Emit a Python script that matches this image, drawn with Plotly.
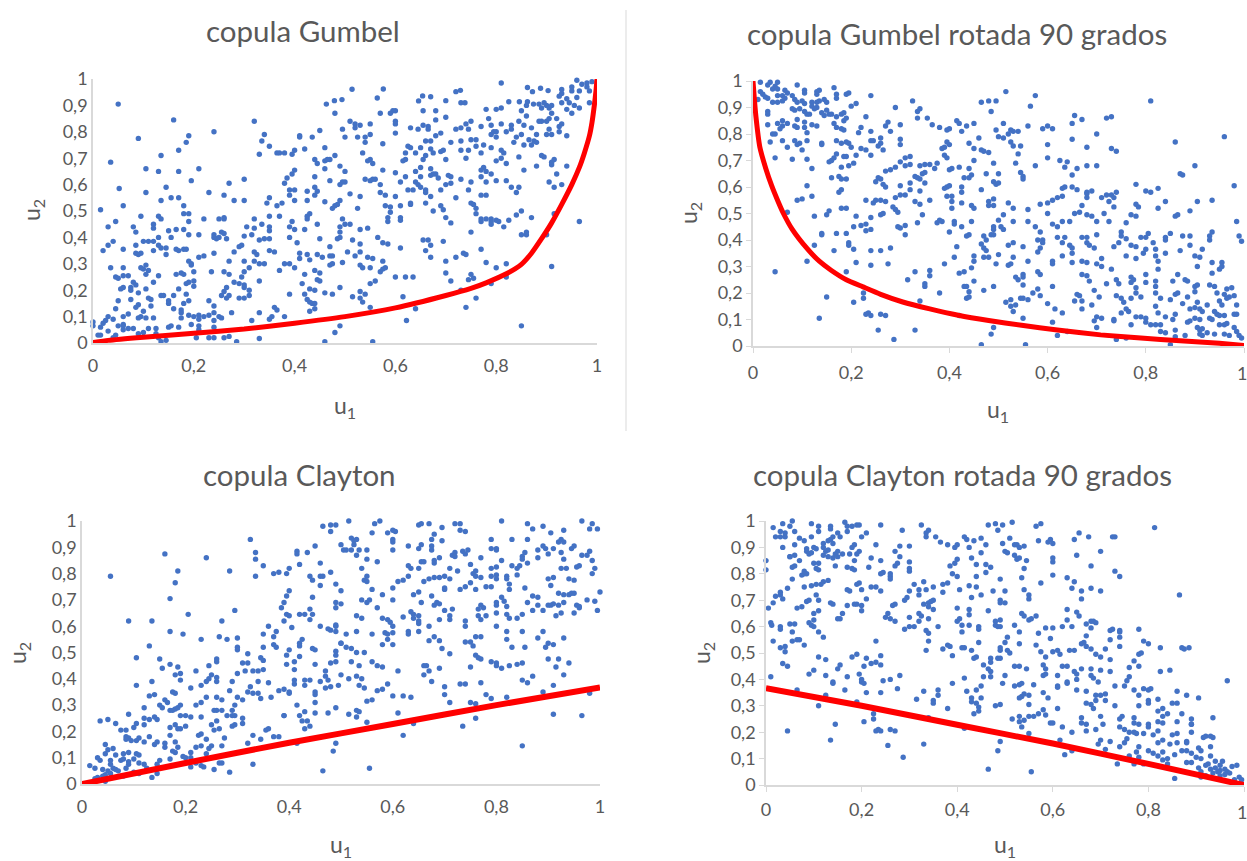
import plotly.graph_objects as go

W, H = 1247, 861
tick_vals_y = [0, 0.1, 0.2, 0.3, 0.4, 0.5, 0.6, 0.7, 0.8, 0.9, 1]
tick_text_y = ["0", "0,1", "0,2", "0,3", "0,4", "0,5", "0,6", "0,7", "0,8", "0,9", "1"]
tick_vals_x = [0, 0.2, 0.4, 0.6, 0.8, 1]
tick_text_x = ["0", "0,2", "0,4", "0,6", "0,8", "1"]

gumbel_pts = [(0.81,0.985),(0.96,0.995),(0.98,0.985),(0.99,0.99),(0.97,0.98),(0.98,0.97),(0.985,0.955),(0.965,0.955),(0.95,0.97),(0.95,0.955),(0.93,0.96),(0.93,0.945),(0.925,0.935),(0.96,0.93),(0.94,0.925),(0.945,0.91),(0.955,0.9),(0.93,0.91),(0.965,0.89),(0.94,0.885),(0.95,0.87),(0.985,0.91),
(0.514,0.961),(0.576,0.962),(0.72,0.952),(0.729,0.957),(0.862,0.968),(0.888,0.965),(0.903,0.956),(0.872,0.952),(0.654,0.936),(0.67,0.933),(0.564,0.928),(0.7,0.918),(0.646,0.917),(0.494,0.922),(0.479,0.918),(0.463,0.905),(0.73,0.91),(0.738,0.91),(0.825,0.914),(0.846,0.914),(0.862,0.914),(0.874,0.905),
(0.05,0.905),(0.16,0.845),(0.32,0.84),(0.24,0.80),(0.19,0.785),(0.09,0.775),(0.185,0.76),(0.34,0.79),(0.335,0.765),(0.35,0.745),(0.17,0.73),(0.135,0.71),(0.035,0.685),(0.33,0.715),(0.365,0.72),(0.37,0.72),(0.38,0.72),(0.395,0.715),(0.4,0.73),(0.42,0.735),(0.41,0.785),(0.41,0.78),(0.435,0.78),(0.45,0.805),(0.46,0.74),(0.48,0.71),(0.44,0.695),(0.445,0.68),(0.46,0.66),(0.46,0.69),(0.47,0.695),(0.465,0.695),(0.49,0.67),(0.5,0.65),(0.105,0.66),(0.13,0.65),(0.17,0.65),(0.21,0.66),(0.4,0.655),(0.395,0.64),(0.385,0.625),(0.38,0.605),(0.44,0.63),(0.47,0.615),(0.5,0.61),(0.49,0.6),(0.495,0.61),(0.3,0.62),(0.195,0.615),(0.27,0.605),(0.145,0.59),(0.052,0.585),(0.105,0.57),(0.23,0.57),(0.39,0.58),(0.4,0.58),(0.425,0.575),(0.445,0.575),(0.44,0.59),(0.44,0.56),(0.39,0.56),(0.26,0.56),(0.155,0.55),(0.17,0.55),(0.35,0.55),(0.28,0.54),(0.3,0.54),(0.135,0.54),(0.4,0.54),(0.425,0.54),(0.46,0.535),(0.375,0.53),(0.345,0.53),(0.365,0.52),(0.06,0.52),(0.18,0.52),(0.48,0.52),(0.485,0.525),(0.49,0.54),(0.475,0.51),(0.015,0.505),
(0.51,0.565),(0.53,0.555),(0.525,0.51),(0.54,0.62),(0.55,0.615),(0.555,0.62),(0.56,0.62),(0.57,0.6),(0.575,0.655),(0.6,0.645),(0.62,0.63),(0.64,0.61),(0.61,0.61),(0.58,0.56),(0.6,0.555),(0.57,0.57),(0.58,0.52),(0.59,0.515),(0.59,0.495),(0.585,0.475),(0.585,0.46),(0.61,0.52),(0.61,0.475),(0.61,0.465),(0.625,0.58),(0.635,0.58),(0.645,0.6),(0.66,0.58),(0.66,0.57),(0.65,0.59),(0.66,0.53),(0.67,0.555),(0.63,0.525),(0.63,0.53),(0.675,0.5),(0.69,0.52),(0.695,0.505),(0.7,0.475),(0.71,0.455),(0.69,0.58),(0.7,0.6),(0.71,0.605),(0.705,0.635),(0.685,0.625),(0.68,0.64),(0.675,0.64),(0.67,0.635),(0.67,0.66),(0.65,0.665),(0.64,0.65),(0.65,0.63),(0.62,0.695),(0.615,0.69),(0.62,0.72),(0.625,0.745),(0.63,0.74),(0.64,0.72),(0.65,0.74),(0.655,0.695),(0.66,0.71),(0.67,0.735),(0.675,0.72),(0.69,0.725),(0.7,0.695),(0.695,0.73),(0.71,0.76),(0.66,0.765),(0.67,0.765),(0.68,0.785),(0.69,0.795),(0.63,0.815),(0.645,0.81),(0.655,0.825),(0.665,0.82),(0.665,0.81),(0.68,0.845),(0.68,0.88),(0.655,0.88),(0.6,0.88),(0.595,0.88),(0.59,0.87),(0.6,0.84),(0.6,0.83),(0.6,0.795),(0.55,0.83),(0.53,0.825),(0.52,0.83),(0.52,0.815),(0.525,0.78),(0.54,0.78),(0.55,0.79),(0.5,0.78),(0.495,0.81),(0.51,0.84),(0.48,0.87),(0.57,0.87),(0.575,0.755),(0.54,0.76),(0.535,0.72),(0.55,0.695),(0.555,0.68),(0.545,0.69),
(0.7,0.855),(0.72,0.81),(0.73,0.815),(0.74,0.83),(0.75,0.84),(0.745,0.81),(0.77,0.82),(0.785,0.85),(0.79,0.825),(0.78,0.885),(0.8,0.885),(0.81,0.89),(0.81,0.83),(0.83,0.825),(0.83,0.81),(0.82,0.8),(0.84,0.78),(0.835,0.76),(0.8,0.8),(0.79,0.79),(0.795,0.8),(0.8,0.78),(0.79,0.74),(0.775,0.75),(0.76,0.77),(0.75,0.77),(0.73,0.765),(0.73,0.73),(0.745,0.73),(0.76,0.745),(0.74,0.7),(0.77,0.72),(0.81,0.73),(0.815,0.72),(0.81,0.7),(0.8,0.69),(0.82,0.68),(0.775,0.665),(0.77,0.655),(0.77,0.63),(0.78,0.65),(0.79,0.64),(0.78,0.61),(0.8,0.615),(0.82,0.615),(0.83,0.59),(0.84,0.57),(0.75,0.61),(0.73,0.62),(0.745,0.58),(0.71,0.63),(0.72,0.55),(0.75,0.53),(0.755,0.525),(0.76,0.51),(0.77,0.56),(0.78,0.56),(0.76,0.49),(0.77,0.47),(0.77,0.46),(0.78,0.47),(0.79,0.47),(0.8,0.465),(0.805,0.46),(0.815,0.44),(0.79,0.45),(0.79,0.46),(0.825,0.465),(0.84,0.485),(0.85,0.5),(0.87,0.475),(0.85,0.41),(0.86,0.41),(0.86,0.42),(0.9,0.41),(0.965,0.46),(0.915,0.49),(0.93,0.6),(0.94,0.67),(0.88,0.67),(0.91,0.675),(0.91,0.685),(0.895,0.705),(0.915,0.695),(0.92,0.64),(0.905,0.61),(0.915,0.59),(0.87,0.815),(0.855,0.825),
(0.86,0.86),(0.845,0.84),(0.85,0.88),(0.86,0.9),(0.875,0.765),(0.88,0.79),(0.89,0.84),(0.885,0.84),(0.9,0.84),(0.91,0.87),(0.905,0.85),(0.92,0.85),(0.93,0.83),(0.905,0.81),(0.91,0.79),(0.925,0.82),(0.94,0.785),(0.925,0.8),(0.9,0.79),(0.855,0.75),(0.85,0.79),(0.865,0.77),(0.87,0.75),(0.88,0.76),(0.845,0.705),(0.89,0.71),(0.855,0.655),(0.845,0.59),(0.9,0.90),(0.91,0.9),(0.895,0.91),(0.905,0.89),(0.885,0.905),(0.89,0.89),
(0.03,0.44),(0.045,0.46),(0.08,0.44),(0.085,0.42),(0.095,0.48),(0.13,0.48),(0.135,0.47),(0.12,0.45),(0.12,0.435),(0.15,0.425),(0.165,0.43),(0.155,0.4),(0.18,0.43),(0.19,0.41),(0.19,0.46),(0.19,0.49),(0.18,0.49),(0.22,0.47),(0.25,0.47),(0.26,0.475),(0.26,0.47),(0.21,0.41),(0.24,0.41),(0.255,0.42),(0.26,0.415),(0.25,0.4),(0.265,0.395),(0.245,0.395),(0.24,0.4),(0.3,0.405),(0.315,0.41),(0.305,0.44),(0.32,0.435),(0.32,0.47),(0.335,0.45),(0.35,0.44),(0.35,0.425),(0.34,0.395),(0.33,0.39),(0.35,0.395),(0.35,0.48),(0.37,0.48),(0.395,0.46),(0.39,0.44),(0.4,0.43),(0.39,0.4),(0.405,0.38),(0.42,0.43),(0.425,0.47),(0.425,0.48),(0.43,0.49),(0.445,0.45),(0.45,0.395),(0.495,0.47),(0.5,0.45),(0.51,0.45),(0.49,0.44),(0.49,0.42),(0.485,0.395),(0.49,0.4),(0.515,0.39),(0.53,0.43),(0.545,0.435),(0.565,0.4),(0.53,0.375),(0.575,0.38),(0.585,0.375),(0.61,0.36),(0.655,0.39),(0.665,0.39),(0.66,0.35),(0.67,0.37),(0.695,0.385),(0.67,0.325),
(0.12,0.385),(0.13,0.37),(0.135,0.36),(0.145,0.36),(0.13,0.4),(0.1,0.385),(0.11,0.385),(0.12,0.35),(0.145,0.335),(0.165,0.355),(0.17,0.35),(0.18,0.355),(0.185,0.355),(0.04,0.385),(0.03,0.37),(0.02,0.35),(0.06,0.355),(0.085,0.37),(0.085,0.34),(0.09,0.335),(0.095,0.34),(0.035,0.285),(0.06,0.285),(0.045,0.25),(0.05,0.245),(0.06,0.255),(0.07,0.255),(0.095,0.285),(0.1,0.28),(0.105,0.295),(0.11,0.275),(0.105,0.26),(0.13,0.255),(0.165,0.26),(0.175,0.265),(0.19,0.31),(0.195,0.295),(0.195,0.3),(0.2,0.27),(0.21,0.325),(0.22,0.33),(0.24,0.34),(0.27,0.31),(0.28,0.345),(0.29,0.365),(0.295,0.37),(0.3,0.31),(0.3,0.27),(0.31,0.285),(0.32,0.31),(0.32,0.345),(0.325,0.335),(0.33,0.3),(0.34,0.3),(0.35,0.35),(0.36,0.345),(0.37,0.275),(0.38,0.3),(0.39,0.3),(0.4,0.285),(0.41,0.32),(0.41,0.34),(0.425,0.335),(0.43,0.315),(0.445,0.335),(0.455,0.325),(0.47,0.365),(0.47,0.33),(0.475,0.33),(0.47,0.295),(0.475,0.3),(0.495,0.305),(0.505,0.345),(0.52,0.33),(0.53,0.345),(0.545,0.325),(0.555,0.32),(0.53,0.295),(0.535,0.285),(0.55,0.285),(0.575,0.31),(0.58,0.285),(0.575,0.28),(0.57,0.27),(0.6,0.25),(0.62,0.25),(0.635,0.25),(0.44,0.275),(0.45,0.265),(0.445,0.24),(0.42,0.26),(0.415,0.225),(0.43,0.205),(0.44,0.2),(0.45,0.235),(0.46,0.19),(0.49,0.21),(0.42,0.185),(0.39,0.185),(0.475,0.185),(0.515,0.175),(0.53,0.17),(0.53,0.195),(0.54,0.185),(0.535,0.155),(0.55,0.225),(0.56,0.235),(0.55,0.135),(0.615,0.175),(0.425,0.165),(0.43,0.155),(0.435,0.15),(0.44,0.15),(0.44,0.13),(0.43,0.12),(0.36,0.135),(0.365,0.125),(0.38,0.1),(0.355,0.1),(0.35,0.09),(0.33,0.115),(0.315,0.085),(0.25,0.1),(0.255,0.18),(0.26,0.195),(0.265,0.21),(0.265,0.17),(0.27,0.18),(0.28,0.23),(0.29,0.225),(0.295,0.25),(0.3,0.22),(0.3,0.21),(0.29,0.17),(0.3,0.17),(0.31,0.2),(0.31,0.18),(0.33,0.235),(0.275,0.115),(0.23,0.16),(0.24,0.14),(0.24,0.115),(0.23,0.105),(0.21,0.105),(0.22,0.1),(0.24,0.085),(0.21,0.09),(0.235,0.27),(0.26,0.27),(0.27,0.26),(0.18,0.26),(0.19,0.23),(0.185,0.225),(0.2,0.235),(0.2,0.215),(0.17,0.205),(0.16,0.18),(0.185,0.185),(0.19,0.16),(0.18,0.15),(0.15,0.15),(0.15,0.16),(0.16,0.13),(0.175,0.125),(0.175,0.115),(0.19,0.105),(0.175,0.095),(0.2,0.1),(0.135,0.18),(0.14,0.18),(0.12,0.23),(0.105,0.205),(0.11,0.17),(0.115,0.165),(0.115,0.14),(0.09,0.145),(0.085,0.135),(0.1,0.12),(0.095,0.1),(0.09,0.095),(0.105,0.095),(0.085,0.22),(0.08,0.23),(0.06,0.21),(0.055,0.205),(0.09,0.19),(0.075,0.21),(0.075,0.2),(0.075,0.165),(0.05,0.16),(0.045,0.13),(0.06,0.1),(0.07,0.11),(0.04,0.09),(0.03,0.1),(0.025,0.085),(0.02,0.075),(0,0.08),(0,0.065),(0.015,0.06),(0.12,0.095),(0.125,0.055),(0.11,0.055),(0.08,0.055),(0.07,0.055),(0.06,0.05),(0.06,0.07),(0.05,0.065),(0.06,0.065),(0.045,0.03),(0.03,0.045),(0.04,0.02),(0.01,0.03),(0.015,0.03),(0.1,0.04),(0.09,0.035),(0.125,0.035),(0.13,0.02),(0.135,0.005),(0.145,0.01),(0.15,0.06),(0.155,0.065),(0.17,0.06),(0.195,0.07),(0.21,0.065),(0.21,0.05),(0.205,0.02),(0.23,0.02),(0.24,0.02),(0.26,0.02),(0.27,0.025),(0.285,0.005),(0.33,0.017),(0.24,0.06),(0.255,0.095),(0.46,0.005),(0.555,0.005),(0.49,0.065),(0.48,0.04),(0.622,0.085),(0.64,0.13),(0.74,0.135),(0.76,0.17),(0.85,0.065),(0.73,0.2),(0.745,0.24),(0.75,0.26),(0.755,0.245),(0.79,0.225),(0.82,0.25),(0.78,0.305),(0.8,0.285),(0.82,0.3),(0.71,0.235),(0.7,0.265),(0.7,0.31),(0.72,0.325),(0.735,0.34),(0.74,0.335),(0.77,0.355),(0.75,0.42),(0.91,0.29)]

gumbel90_pts = [(0.015,0.995),(0.03,0.985),(0.035,0.995),(0.05,0.995),(0.045,0.98),(0.04,0.97),(0.05,0.97),(0.09,0.985),(0.105,0.965),(0.105,0.955),(0.13,0.96),(0.135,0.965),(0.13,0.95),(0.165,0.975),(0.19,0.95),(0.195,0.955),(0.065,0.965),(0.07,0.955),(0.015,0.96),(0.02,0.95),(0.025,0.94),(0.03,0.935),(0.01,0.93),(0.05,0.945),(0.06,0.945),(0.065,0.935),(0.06,0.925),(0.05,0.92),(0.04,0.92),(0.08,0.945),(0.085,0.93),(0.09,0.92),(0.1,0.925),(0.105,0.915),(0.12,0.92),(0.13,0.92),(0.135,0.925),(0.12,0.905),(0.13,0.9),(0.125,0.895),(0.08,0.895),(0.085,0.89),(0.095,0.895),(0.105,0.885),(0.11,0.875),(0.115,0.875),(0.145,0.93),(0.15,0.92),(0.17,0.935),(0.17,0.95),(0.15,0.89),(0.155,0.875),(0.145,0.87),(0.16,0.875),(0.14,0.88),(0.18,0.875),(0.185,0.88),(0.19,0.86),(0.185,0.85),(0.17,0.865),(0.2,0.905),(0.21,0.915),(0.24,0.945),(0.23,0.865),(0.03,0.885),(0.03,0.875),(0.03,0.835),(0.05,0.84),(0.06,0.85),(0.06,0.83),(0.055,0.82),(0.045,0.8),(0.04,0.8),(0.035,0.77),(0.07,0.84),(0.085,0.83),(0.09,0.825),(0.09,0.855),(0.105,0.845),(0.105,0.825),(0.12,0.835),(0.13,0.83),(0.06,0.775),(0.07,0.75),(0.085,0.775),(0.095,0.765),(0.09,0.76),(0.1,0.74),(0.11,0.805),(0.11,0.775),(0.045,0.71),(0.08,0.705),(0.11,0.705),(0.12,0.67),(0.14,0.765),(0.14,0.76),(0.165,0.84),(0.17,0.825),(0.18,0.82),(0.185,0.815),(0.17,0.775),(0.18,0.765),(0.195,0.765),(0.19,0.77),(0.2,0.75),(0.155,0.695),(0.16,0.7),(0.165,0.71),(0.17,0.725),(0.185,0.715),(0.19,0.715),(0.205,0.69),(0.195,0.68),(0.18,0.675),(0.21,0.72),(0.22,0.745),(0.23,0.74),(0.215,0.805),(0.22,0.825),(0.24,0.81),(0.24,0.775),(0.245,0.775),(0.24,0.72),(0.255,0.755),(0.26,0.765),(0.26,0.785),(0.265,0.74),(0.27,0.83),(0.275,0.845),(0.28,0.81),(0.29,0.9),(0.3,0.835),(0.3,0.78),(0.3,0.76),(0.325,0.925),(0.335,0.86),(0.335,0.885),(0.34,0.895),(0.355,0.86),(0.365,0.835),(0.38,0.825),(0.395,0.815),(0.4,0.82),(0.415,0.85),(0.42,0.84),(0.425,0.81),(0.435,0.83),(0.45,0.84),(0.465,0.92),(0.48,0.925),(0.495,0.925),(0.485,0.885),(0.46,0.785),(0.44,0.765),(0.45,0.745),(0.465,0.74),(0.47,0.735),(0.48,0.73),(0.49,0.69),(0.475,0.65),(0.5,0.65),(0.445,0.645),(0.44,0.635),(0.42,0.675),(0.44,0.67),(0.45,0.7),(0.43,0.635),(0.405,0.67),
(0.515,0.96),(0.575,0.945),(0.565,0.905),(0.51,0.84),(0.525,0.815),(0.52,0.8),(0.53,0.81),(0.54,0.81),(0.56,0.83),(0.495,0.815),(0.5,0.79),(0.51,0.785),(0.525,0.77),(0.53,0.755),(0.545,0.755),(0.54,0.725),(0.535,0.69),(0.545,0.655),(0.55,0.64),(0.55,0.63),(0.575,0.68),(0.59,0.82),(0.6,0.83),(0.61,0.82),(0.6,0.76),(0.6,0.71),(0.625,0.7),(0.64,0.695),(0.635,0.675),(0.655,0.87),(0.65,0.84),(0.67,0.855),(0.65,0.78),(0.68,0.75),(0.66,0.67),(0.65,0.645),(0.68,0.68),(0.7,0.68),(0.7,0.8),(0.72,0.86),(0.73,0.865),(0.73,0.745),(0.74,0.735),(0.81,0.925),(0.96,0.79),(0.86,0.77),(0.87,0.65),(0.875,0.645),(0.9,0.68),
(0.25,0.62),(0.255,0.635),(0.26,0.63),(0.265,0.61),(0.27,0.6),(0.27,0.66),(0.28,0.665),(0.29,0.675),(0.3,0.695),(0.31,0.71),(0.32,0.715),(0.31,0.68),(0.32,0.685),(0.33,0.64),(0.335,0.635),(0.34,0.68),(0.35,0.685),(0.345,0.65),(0.35,0.655),(0.34,0.63),(0.36,0.685),(0.37,0.67),(0.375,0.69),(0.385,0.745),(0.39,0.75),(0.4,0.76),(0.395,0.77),(0.39,0.72),(0.395,0.71),(0.4,0.665),(0.35,0.615),(0.32,0.615),(0.32,0.59),(0.3,0.605),(0.29,0.56),(0.3,0.57),(0.31,0.57),(0.34,0.585),(0.36,0.55),(0.33,0.545),(0.34,0.535),(0.26,0.55),(0.245,0.54),(0.25,0.55),(0.27,0.545),(0.26,0.495),(0.265,0.5),(0.285,0.525),(0.29,0.515),(0.295,0.505),(0.3,0.445),(0.295,0.45),(0.31,0.42),(0.31,0.455),(0.335,0.465),(0.345,0.495),(0.375,0.465),(0.38,0.475),(0.385,0.47),(0.395,0.565),(0.395,0.6),(0.39,0.595),(0.4,0.605),(0.405,0.565),(0.405,0.545),(0.405,0.52),(0.425,0.6),(0.425,0.58),(0.425,0.54),(0.445,0.53),(0.45,0.52),(0.445,0.47),(0.4,0.43),(0.41,0.47),(0.41,0.46),(0.425,0.45),(0.44,0.42),(0.435,0.415),(0.465,0.385),(0.465,0.59),(0.48,0.545),(0.48,0.53),(0.49,0.555),(0.49,0.53),(0.49,0.62),(0.495,0.61),(0.5,0.615),(0.47,0.415),(0.475,0.4),(0.485,0.42),(0.49,0.42),(0.49,0.45),(0.49,0.44),(0.5,0.475),(0.51,0.495),(0.505,0.45),(0.51,0.44),(0.52,0.54),(0.53,0.52),(0.53,0.47),(0.52,0.38),(0.53,0.39),(0.55,0.375),(0.47,0.37),(0.475,0.36),(0.47,0.335),(0.48,0.335),(0.5,0.345),(0.495,0.31),(0.52,0.305),(0.525,0.31),(0.53,0.335),(0.45,0.34),(0.45,0.32),(0.445,0.295),(0.39,0.31),(0.415,0.375),(0.41,0.335),(0.42,0.275),(0.43,0.28),
(0.125,0.38),(0.11,0.32),(0.045,0.28),(0.15,0.185),(0.135,0.105),(0.125,0.49),(0.15,0.495),(0.155,0.51),(0.14,0.425),(0.14,0.42),(0.17,0.425),(0.165,0.36),(0.19,0.425),(0.195,0.39),(0.195,0.38),(0.205,0.365),(0.205,0.45),(0.21,0.49),(0.22,0.455),(0.23,0.46),(0.23,0.435),(0.24,0.44),(0.24,0.485),(0.23,0.55),(0.24,0.36),(0.26,0.36),(0.28,0.37),(0.275,0.31),(0.24,0.305),(0.21,0.315),(0.19,0.28),(0.225,0.2),(0.225,0.18),(0.205,0.165),(0.235,0.125),(0.24,0.115),(0.23,0.12),(0.26,0.12),(0.27,0.115),(0.255,0.06),(0.287,0.025),(0.33,0.06),(0.315,0.25),(0.33,0.28),(0.36,0.285),(0.36,0.265),(0.35,0.235),(0.35,0.225),(0.38,0.2),(0.34,0.17),(0.09,0.55),(0.1,0.555),(0.11,0.605),(0.12,0.565),(0.07,0.505),(0.16,0.635),(0.175,0.64),(0.18,0.63),(0.19,0.63),(0.175,0.58),(0.18,0.59),(0.18,0.52),(0.19,0.52),
(0.43,0.225),(0.435,0.225),(0.44,0.205),(0.435,0.18),(0.44,0.185),(0.45,0.245),(0.49,0.225),(0.47,0.21),(0.465,0.005),(0.555,0.005),(0.485,0.045),(0.49,0.07),(0.42,0.115),(0.515,0.165),(0.525,0.15),(0.525,0.175),(0.53,0.13),(0.535,0.155),(0.54,0.25),(0.535,0.26),(0.55,0.27),(0.55,0.26),(0.55,0.23),(0.545,0.18),(0.55,0.18),(0.56,0.175),(0.55,0.105),(0.56,0.32),(0.58,0.28),(0.585,0.27),(0.58,0.355),(0.585,0.37),(0.59,0.4),(0.58,0.4),(0.59,0.39),(0.56,0.47),(0.575,0.45),(0.585,0.43),(0.56,0.515),(0.585,0.535),(0.6,0.5),(0.62,0.56),(0.63,0.565),(0.61,0.55),(0.6,0.54),(0.63,0.595),(0.635,0.6),(0.65,0.6),(0.66,0.59),(0.68,0.58),(0.68,0.575),(0.69,0.585),(0.68,0.56),(0.67,0.53),(0.655,0.5),(0.665,0.505),(0.68,0.495),(0.69,0.49),(0.7,0.47),(0.63,0.47),(0.645,0.47),(0.61,0.46),(0.62,0.45),(0.62,0.41),(0.635,0.41),(0.63,0.39),(0.645,0.38),(0.65,0.37),(0.65,0.35),(0.67,0.41),(0.68,0.41),(0.68,0.39),(0.685,0.38),(0.7,0.42),(0.695,0.37),(0.71,0.33),(0.71,0.3),(0.68,0.315),(0.7,0.31),(0.73,0.29),(0.61,0.32),(0.61,0.31),(0.63,0.34),(0.65,0.315),(0.67,0.32),(0.67,0.27),(0.68,0.265),(0.685,0.245),(0.72,0.235),(0.74,0.25),(0.695,0.21),(0.69,0.155),(0.705,0.185),(0.66,0.195),(0.665,0.19),(0.655,0.17),(0.67,0.17),(0.67,0.14),(0.61,0.225),(0.6,0.16),(0.585,0.19),(0.57,0.2),(0.58,0.215),(0.615,0.14),(0.63,0.125),(0.61,0.09),(0.62,0.04),(0.64,0.055),
(0.71,0.56),(0.72,0.57),(0.73,0.57),(0.74,0.58),(0.735,0.56),(0.725,0.545),(0.735,0.525),(0.715,0.5),(0.725,0.47),(0.76,0.465),(0.77,0.495),(0.78,0.49),(0.78,0.61),(0.78,0.535),(0.785,0.525),(0.8,0.585),(0.81,0.58),(0.825,0.595),(0.825,0.52),(0.84,0.545),(0.86,0.49),(0.865,0.495),(0.89,0.51),(0.905,0.545),(0.935,0.55),(0.98,0.605),(0.985,0.47),(0.99,0.415),(0.995,0.395),(0.93,0.415),(0.935,0.43),(0.93,0.4),(0.85,0.425),(0.84,0.41),(0.84,0.4),(0.875,0.415),(0.89,0.415),(0.89,0.38),(0.87,0.36),(0.84,0.35),(0.805,0.425),(0.79,0.41),(0.8,0.41),(0.815,0.39),(0.82,0.365),(0.82,0.34),(0.825,0.32),(0.825,0.29),(0.8,0.365),(0.795,0.35),(0.78,0.375),(0.78,0.33),(0.77,0.38),(0.76,0.34),(0.75,0.43),(0.75,0.415),(0.745,0.39),(0.735,0.375),(0.76,0.405),(0.9,0.34),(0.91,0.335),(0.915,0.365),(0.905,0.3),(0.935,0.315),(0.955,0.315),(0.955,0.3),(0.95,0.29),(0.935,0.275),(0.865,0.27),(0.855,0.245),(0.88,0.25),(0.885,0.245),(0.9,0.225),(0.905,0.23),(0.93,0.23),(0.94,0.225),(0.965,0.215),(0.975,0.22),(0.97,0.185),(0.8,0.27),(0.82,0.245),(0.82,0.225),(0.8,0.24),(0.77,0.26),(0.77,0.24),(0.775,0.25),(0.78,0.22),(0.78,0.2),(0.79,0.185),(0.745,0.235),(0.74,0.19),(0.75,0.18),(0.755,0.165),(0.77,0.18),(0.76,0.14),(0.765,0.13),(0.75,0.125),(0.82,0.2),(0.83,0.18),(0.85,0.175),(0.86,0.195),(0.865,0.2),(0.875,0.16),(0.885,0.185),(0.9,0.205),(0.905,0.165),(0.89,0.14),(0.9,0.145),(0.91,0.14),(0.915,0.13),(0.925,0.155),(0.94,0.13),(0.945,0.12),(0.95,0.17),(0.955,0.155),(0.945,0.2),(0.96,0.195),(0.965,0.18),(0.98,0.19),(0.985,0.155),(0.98,0.12),(0.985,0.12),(0.96,0.115),(0.95,0.115),(0.82,0.15),(0.825,0.125),(0.84,0.11),(0.86,0.12),(0.855,0.1),(0.8,0.105),(0.79,0.11),(0.8,0.09),(0.81,0.08),(0.82,0.08),(0.83,0.08),(0.83,0.055),(0.84,0.05),(0.885,0.09),(0.89,0.095),(0.9,0.105),(0.91,0.1),(0.93,0.105),(0.935,0.1),(0.95,0.08),(0.96,0.08),(0.965,0.085),(0.98,0.07),(0.985,0.055),(0.96,0.045),(0.97,0.04),(0.99,0.04),(0.995,0.03),(0.905,0.07),(0.91,0.06),(0.915,0.065),(0.91,0.045),(0.915,0.04),(0.925,0.05),(0.94,0.045),(0.77,0.08),(0.735,0.1),(0.735,0.095),(0.74,0.025),(0.76,0.03),(0.85,0.005),(0.86,0.035),(0.88,0.04),(0.7,0.11),(0.695,0.095),(0.71,0.105),(0.7,0.07),(0.78,0.11),(0.86,0.06)]

clayton_pts = [(0.81,1),(0.515,1),(0.575,1),(0.565,0.99),(0.49,0.985),(0.48,0.985),(0.465,0.98),(0.48,0.96),(0.56,0.955),(0.59,0.955),(0.6,0.965),(0.605,0.96),(0.65,0.985),(0.655,0.99),(0.67,0.99),(0.68,0.95),(0.695,0.975),(0.72,0.99),(0.73,0.99),(0.73,0.965),(0.74,0.96),(0.86,0.99),(0.87,0.97),(0.89,0.98),(0.905,0.955),(0.93,0.965),(0.965,1),(0.985,0.99),(0.98,0.97),(0.995,0.97),
(0.325,0.93),(0.335,0.88),(0.335,0.855),(0.35,0.83),(0.16,0.875),(0.24,0.86),(0.185,0.81),(0.055,0.79),(0.18,0.765),(0.17,0.705),(0.285,0.81),(0.335,0.79),(0.37,0.8),(0.38,0.805),(0.395,0.8),(0.4,0.82),(0.415,0.885),(0.415,0.875),(0.435,0.88),(0.42,0.835),(0.45,0.905),(0.46,0.84),(0.44,0.79),(0.445,0.775),(0.46,0.755),(0.46,0.79),(0.465,0.79),(0.48,0.805),(0.49,0.76),(0.5,0.735),(0.5,0.91),(0.505,0.89),(0.51,0.89),(0.52,0.935),(0.525,0.925),(0.53,0.93),(0.525,0.91),(0.53,0.87),(0.535,0.89),(0.55,0.855),(0.55,0.89),(0.52,0.89),(0.54,0.82),(0.55,0.79),(0.545,0.775),(0.55,0.77),(0.57,0.845),(0.6,0.89),(0.6,0.92),(0.6,0.93),(0.63,0.905),(0.65,0.895),(0.655,0.91),(0.675,0.905),(0.675,0.89),(0.675,0.93),(0.695,0.925),(0.715,0.87),(0.72,0.88),(0.72,0.865),(0.745,0.89),(0.735,0.885),(0.74,0.875),(0.79,0.93),(0.8,0.89),(0.8,0.895),(0.79,0.895),(0.83,0.93),(0.77,0.86),(0.75,0.835),(0.79,0.82),(0.8,0.825),(0.81,0.85),(0.83,0.83),(0.84,0.82),(0.845,0.83),(0.84,0.795),(0.86,0.93),(0.855,0.88),(0.85,0.865),(0.85,0.855),(0.86,0.84),(0.88,0.86),(0.88,0.89),(0.89,0.905),(0.895,0.895),(0.91,0.895),(0.9,0.875),(0.925,0.88),(0.93,0.92),(0.925,0.93),(0.92,0.92),(0.93,0.855),(0.925,0.82),(0.935,0.82),(0.95,0.905),(0.945,0.895),(0.965,0.87),(0.975,0.87),(0.98,0.885),(0.985,0.85),(0.99,0.82),(0.96,0.83),(0.955,0.825),(0.985,0.8),
(0.63,0.83),(0.635,0.82),(0.65,0.82),(0.655,0.845),(0.66,0.845),(0.68,0.84),(0.68,0.85),(0.69,0.86),(0.71,0.82),(0.725,0.81),(0.76,0.81),(0.755,0.8),(0.76,0.79),(0.79,0.79),(0.8,0.78),(0.8,0.795),(0.82,0.79),(0.82,0.78),(0.825,0.76),(0.62,0.775),(0.61,0.77),(0.63,0.79),(0.66,0.77),(0.67,0.78),(0.68,0.785),(0.69,0.785),(0.7,0.79),(0.71,0.78),(0.74,0.75),(0.75,0.765),(0.77,0.785),(0.79,0.75),(0.825,0.74),(0.81,0.71),(0.6,0.745),(0.56,0.74),(0.58,0.72),(0.6,0.7),(0.64,0.72),(0.65,0.73),(0.675,0.715),(0.7,0.74),(0.7,0.745),(0.73,0.74),(0.76,0.74),(0.78,0.75),(0.655,0.69),(0.68,0.68),(0.685,0.69),(0.69,0.685),(0.715,0.665),(0.77,0.68),(0.775,0.67),(0.765,0.665),(0.8,0.69),(0.8,0.68),(0.815,0.695),(0.82,0.675),
(0.855,0.745),(0.87,0.715),(0.86,0.69),(0.88,0.68),(0.88,0.71),(0.89,0.66),(0.9,0.68),(0.905,0.68),(0.91,0.685),(0.92,0.68),(0.93,0.69),(0.93,0.72),(0.94,0.72),(0.945,0.725),(0.95,0.725),(0.955,0.68),(0.96,0.675),(0.96,0.67),(0.95,0.65),(0.925,0.65),(0.915,0.64),(0.975,0.7),(0.99,0.695),(1,0.73),(0.995,0.66),(0.87,0.66),(0.85,0.645),(0.905,0.755),(0.91,0.785),(0.9,0.78),(0.92,0.725),(0.94,0.78),(0.95,0.775),(0.84,0.63),(0.765,0.64),(0.77,0.625),(0.78,0.64),(0.8,0.65),(0.8,0.6),(0.82,0.645),(0.825,0.63),
(0.93,0.555),(0.91,0.53),(0.9,0.535),(0.895,0.52),(0.88,0.555),(0.89,0.58),(0.85,0.58),(0.855,0.52),(0.83,0.52),(0.82,0.55),(0.82,0.58),(0.74,0.62),(0.74,0.6),(0.76,0.56),(0.77,0.56),(0.74,0.54),(0.75,0.54),(0.755,0.525),(0.76,0.49),(0.765,0.48),(0.77,0.475),(0.79,0.465),(0.8,0.46),(0.8,0.45),(0.81,0.44),(0.825,0.45),(0.84,0.455),(0.85,0.46),(0.9,0.475),(0.92,0.475),(0.915,0.445),(0.94,0.46),(0.93,0.415),(0.87,0.41),(0.85,0.395),(0.86,0.385),(0.89,0.35),(0.91,0.375),(0.98,0.345),
(0.7,0.66),(0.71,0.64),(0.71,0.625),(0.69,0.625),(0.67,0.6),(0.65,0.64),(0.64,0.645),(0.635,0.655),(0.65,0.62),(0.65,0.61),(0.65,0.58),(0.63,0.58),(0.63,0.57),(0.64,0.63),(0.62,0.635),(0.6,0.575),(0.6,0.53),(0.585,0.575),(0.59,0.57),(0.58,0.53),(0.59,0.55),(0.67,0.545),(0.68,0.56),(0.69,0.545),(0.695,0.515),(0.71,0.495),(0.69,0.44),(0.665,0.45),(0.66,0.45),(0.67,0.43),(0.66,0.415),(0.675,0.39),(0.7,0.37),(0.7,0.34),(0.71,0.31),(0.73,0.38),(0.74,0.38),(0.75,0.445),(0.77,0.385),(0.78,0.34),(0.79,0.325),(0.82,0.33),(0.75,0.31),(0.76,0.305),(0.76,0.25),(0.735,0.22),(0.61,0.43),(0.58,0.445),(0.57,0.45),(0.56,0.465),(0.59,0.38),(0.58,0.36),(0.57,0.355),(0.6,0.335),(0.62,0.335),(0.635,0.33),(0.61,0.27),(0.64,0.23),(0.62,0.185),(0.555,0.06),(0.53,0.28),(0.535,0.275),(0.53,0.255),(0.515,0.265),(0.55,0.235),(0.55,0.315),(0.56,0.32),(0.545,0.365),(0.535,0.375),(0.54,0.4),(0.53,0.41),(0.515,0.4),(0.535,0.45),(0.52,0.465),
(0.5,0.535),(0.51,0.52),(0.52,0.515),(0.53,0.5),(0.545,0.5),(0.56,0.57),(0.51,0.57),(0.53,0.58),(0.49,0.6),(0.48,0.585),(0.475,0.59),(0.49,0.58),(0.49,0.505),(0.49,0.49),(0.48,0.46),(0.49,0.465),(0.5,0.415),(0.47,0.43),(0.47,0.41),(0.475,0.395),(0.47,0.365),(0.48,0.37),(0.495,0.375),(0.49,0.29),(0.475,0.27),(0.485,0.125),(0.49,0.155),(0.465,0.05),(0.45,0.51),(0.445,0.515),(0.45,0.455),(0.42,0.535),(0.425,0.55),(0.42,0.525),(0.42,0.485),(0.41,0.465),(0.4,0.51),(0.395,0.49),(0.395,0.455),(0.41,0.435),(0.41,0.395),(0.41,0.38),(0.43,0.395),(0.44,0.395),(0.43,0.375),(0.46,0.39),(0.45,0.35),(0.45,0.34),(0.45,0.31),(0.45,0.27),(0.43,0.275),(0.435,0.24),(0.42,0.26),(0.425,0.24),(0.43,0.21),(0.44,0.22),(0.4,0.345),(0.415,0.3),(0.39,0.26),
(0.43,0.645),(0.44,0.665),(0.445,0.645),(0.44,0.625),(0.445,0.71),(0.46,0.6),(0.49,0.67),(0.49,0.69),(0.5,0.685),(0.49,0.605),(0.5,0.535),(0.53,0.64),(0.54,0.63),(0.54,0.7),(0.55,0.69),(0.555,0.7),(0.57,0.67),(0.58,0.63),(0.59,0.625),(0.595,0.615),(0.6,0.6),(0.4,0.64),(0.39,0.62),(0.395,0.645),(0.385,0.67),(0.39,0.69),(0.395,0.715),(0.4,0.735),(0.42,0.645),(0.405,0.595),(0.375,0.58),(0.37,0.56),(0.36,0.6),(0.35,0.57),(0.37,0.53),(0.375,0.52),(0.35,0.52),(0.345,0.48),(0.35,0.47),(0.32,0.495),(0.3,0.555),(0.3,0.52),(0.3,0.51),(0.28,0.55),(0.265,0.56),(0.27,0.62),(0.295,0.66),(0.23,0.55),(0.205,0.645),(0.195,0.57),(0.17,0.58),(0.135,0.62),(0.09,0.62),(0.13,0.525),(0.105,0.48),(0.15,0.475),(0.155,0.44),(0.17,0.455),(0.185,0.445),(0.18,0.415),(0.19,0.42),(0.19,0.395),(0.22,0.43),(0.245,0.45),(0.26,0.475),(0.26,0.465),(0.25,0.415),(0.26,0.405),(0.245,0.4),(0.24,0.39),(0.23,0.375),(0.26,0.39),(0.3,0.42),(0.315,0.43),(0.31,0.46),(0.32,0.46),(0.33,0.43),(0.34,0.43),(0.35,0.435),(0.34,0.39),(0.36,0.385),(0.33,0.345),(0.34,0.345),(0.345,0.325),(0.365,0.33),(0.38,0.355),(0.39,0.36),(0.4,0.35),
(0.105,0.375),(0.135,0.39),(0.13,0.335),(0.14,0.34),(0.15,0.3),(0.155,0.29),(0.16,0.32),(0.165,0.31),(0.175,0.35),(0.18,0.285),(0.185,0.29),(0.19,0.3),(0.18,0.345),(0.21,0.365),(0.22,0.3),(0.23,0.31),(0.24,0.33),(0.26,0.33),(0.27,0.32),(0.285,0.355),(0.29,0.39),(0.295,0.3),(0.3,0.33),(0.31,0.32),(0.32,0.35),(0.325,0.37),(0.27,0.28),(0.255,0.28),(0.26,0.28),(0.23,0.255),(0.26,0.24),(0.28,0.26),(0.29,0.28),(0.29,0.26),(0.295,0.26),(0.31,0.25),(0.31,0.23),(0.29,0.22),(0.295,0.225),(0.25,0.225),(0.255,0.205),(0.265,0.21),(0.275,0.175),(0.23,0.19),(0.24,0.17),(0.25,0.145),(0.27,0.145),(0.32,0.155),(0.33,0.185),(0.36,0.21),(0.37,0.18),(0.355,0.205),(0.345,0.17),(0.38,0.18),(0.39,0.26),(0.09,0.265),(0.12,0.29),(0.12,0.25),(0.13,0.245),(0.14,0.255),(0.145,0.245),(0.17,0.28),(0.175,0.28),(0.18,0.225),(0.17,0.215),(0.185,0.21),(0.19,0.21),(0.2,0.22),(0.19,0.26),(0.2,0.26),(0.21,0.255),(0.035,0.24),(0.05,0.245),(0.065,0.23),(0.075,0.205),(0.085,0.205),(0.085,0.18),(0.09,0.175),(0.1,0.215),(0.105,0.23),(0.12,0.225),(0.13,0.18),(0.105,0.165),(0.11,0.175),(0.085,0.17),(0.095,0.165),(0.12,0.16),(0.145,0.16),(0.14,0.15),(0.16,0.14),(0.16,0.155),(0.17,0.185),(0.18,0.16),(0.185,0.14),(0.175,0.125),(0.18,0.12),(0.195,0.105),(0.21,0.12),(0.22,0.14),(0.225,0.185),(0.23,0.145),(0.245,0.135),(0.24,0.115),(0.2,0.1),(0.21,0.1),(0.22,0.08),(0.23,0.07),(0.235,0.065),(0.255,0.055),(0.21,0.065),(0.265,0.08),(0.27,0.08),(0.285,0.045),(0.33,0.075),
(0.045,0.15),(0.05,0.13),(0.03,0.1),(0.035,0.09),(0.045,0.115),(0.06,0.135),(0.065,0.11),(0.08,0.115),(0.09,0.12),(0.105,0.115),(0.11,0.11),(0.075,0.09),(0.08,0.095),(0.09,0.085),(0.1,0.095),(0.11,0.08),(0.12,0.075),(0.125,0.06),(0.09,0.075),(0.085,0.06),(0.055,0.09),(0.055,0.075),(0.06,0.06),(0.065,0.055),(0.07,0.05),(0.05,0.05),(0.055,0.04),(0.045,0.035),(0.04,0.03),(0.03,0.025),(0.025,0.02),(0.015,0.07),(0.025,0.06),(0.1,0.045),(0.11,0.04),(0.135,0.025),(0.145,0.04),(0.15,0.09),(0.145,0.075),(0.17,0.095),(0.045,0.01),(0.08,0.03),(0.04,0.055),(0.415,0.155),(0.85,0.145),(0.91,0.265),(0.965,0.26)]

clayton90_pts = [(0.0,0.85),(0.0,0.815),(0.005,0.67),(0.01,0.615),(0.012,0.605),(0.015,0.545),(0.015,0.69),(0.02,0.715),(0.03,0.72),(0.03,0.73),(0.035,0.705),(0.03,0.6),(0.03,0.59),(0.03,0.52),(0.035,0.46),(0.04,0.505),(0.04,0.525),(0.045,0.45),(0.045,0.745),(0.05,0.865),(0.055,0.78),(0.05,0.61),(0.055,0.58),(0.06,0.61),(0.055,0.545),(0.065,0.55),(0.065,0.67),(0.07,0.55),(0.075,0.675),(0.08,0.53),(0.08,0.75),(0.075,0.795),(0.08,0.8),(0.08,0.81),(0.085,0.8),(0.085,0.695),(0.09,0.7),(0.09,0.615),(0.095,0.605),(0.1,0.625),(0.1,0.6),(0.1,0.65),(0.095,0.755),(0.105,0.76),(0.105,0.72),(0.11,0.7),(0.11,0.66),(0.11,0.58),(0.12,0.56),(0.115,0.76),(0.1,0.84),(0.105,0.82),(0.11,0.84),(0.11,0.815),(0.12,0.77),(0.13,0.775),(0.135,0.69),(0.14,0.685),
(0.015,0.975),(0.03,0.96),(0.035,0.99),(0.02,0.94),(0.03,0.94),(0.04,0.94),(0.04,0.955),(0.05,0.98),(0.055,1),(0.06,0.96),(0.07,0.935),(0.08,0.925),(0.095,0.99),(0.095,0.94),(0.11,0.96),(0.11,0.98),(0.135,0.97),(0.135,0.98),(0.14,0.94),(0.15,0.955),(0.155,0.94),(0.165,0.995),(0.17,0.96),(0.17,0.98),(0.18,0.98),(0.19,0.985),(0.195,0.985),(0.2,0.94),(0.21,0.955),(0.24,0.985),(0.035,0.9),(0.06,0.91),(0.05,0.865),(0.06,0.87),(0.07,0.85),(0.085,0.895),(0.085,0.885),(0.09,0.875),(0.095,0.88),(0.1,0.9),(0.105,0.895),(0.12,0.915),(0.12,0.9),(0.12,0.87),(0.125,0.885),(0.13,0.89),(0.13,0.925),(0.135,0.93),(0.14,0.915),(0.14,0.86),(0.15,0.885),(0.15,0.865),(0.145,0.875),(0.16,0.875),(0.145,0.83),(0.13,0.865),(0.06,0.83),(0.055,0.825),(0.175,0.875),(0.18,0.9),(0.185,0.91),(0.19,0.875),(0.195,0.885),(0.185,0.85),(0.17,0.825),(0.18,0.82),(0.185,0.815),(0.19,0.76),(0.195,0.765),(0.175,0.735),(0.17,0.74),(0.2,0.74),(0.2,0.68),(0.19,0.685),(0.185,0.685),(0.17,0.68),(0.16,0.65),(0.155,0.63),(0.15,0.63),(0.2,0.66),(0.21,0.705),(0.22,0.75),(0.23,0.75),(0.24,0.735),(0.215,0.825),(0.22,0.86),(0.23,0.91),(0.24,0.85),(0.24,0.8),(0.245,0.805),(0.26,0.79),(0.26,0.8),(0.26,0.78),(0.27,0.83),(0.275,0.84),(0.27,0.885),(0.28,0.905),(0.28,0.865),(0.3,0.905),(0.3,0.845),(0.3,0.82),(0.3,0.81),(0.285,0.965),(0.325,0.985),(0.335,0.94),(0.335,0.955),(0.34,0.965),(0.355,0.94),(0.365,0.92),(0.38,0.91),(0.395,0.9),(0.4,0.91),(0.415,0.94),(0.42,0.93),(0.425,0.9),(0.435,0.925),(0.45,0.935),(0.465,0.985),(0.48,0.99),(0.495,0.985),(0.485,0.965),
(0.25,0.635),(0.255,0.65),(0.26,0.63),(0.27,0.62),(0.265,0.68),(0.27,0.685),(0.29,0.7),(0.295,0.71),(0.3,0.735),(0.31,0.76),(0.32,0.74),(0.32,0.72),(0.33,0.77),(0.335,0.74),(0.34,0.69),(0.33,0.685),(0.34,0.675),(0.35,0.75),(0.35,0.7),(0.345,0.695),(0.32,0.65),(0.325,0.64),(0.32,0.62),(0.3,0.635),(0.3,0.6),(0.29,0.59),(0.31,0.6),(0.335,0.585),(0.34,0.575),(0.34,0.63),(0.35,0.665),(0.36,0.6),(0.34,0.545),(0.335,0.51),(0.37,0.515),(0.38,0.53),(0.385,0.525),(0.39,0.49),(0.415,0.52),(0.4,0.62),(0.41,0.605),(0.4,0.67),(0.405,0.63),(0.37,0.76),(0.37,0.73),(0.38,0.765),(0.39,0.8),(0.385,0.83),(0.395,0.84),(0.4,0.855),(0.4,0.79),(0.405,0.74),(0.425,0.755),(0.44,0.75),(0.45,0.72),(0.43,0.71),(0.44,0.835),(0.43,0.86),(0.44,0.79),(0.46,0.805),(0.46,0.835),(0.47,0.825),(0.465,0.66),(0.425,0.665),(0.425,0.645),(0.425,0.605),(0.445,0.6),(0.445,0.59),(0.41,0.58),(0.41,0.52),(0.43,0.51),(0.445,0.54),(0.44,0.485),(0.435,0.48),(0.455,0.455),(0.47,0.48),(0.465,0.44),(0.47,0.43),(0.48,0.62),(0.485,0.6),(0.49,0.625),(0.49,0.6),(0.48,0.605),(0.49,0.52),(0.49,0.51),(0.485,0.48),(0.49,0.48),(0.47,0.465),(0.475,0.735),(0.49,0.78),(0.5,0.735),(0.49,0.7),(0.49,0.69),(0.5,0.69),(0.46,0.91),(0.45,0.88),
(0.51,0.935),(0.5,0.885),(0.505,0.88),(0.495,0.915),(0.52,0.91),(0.525,0.91),(0.53,0.9),(0.54,0.905),(0.52,0.87),(0.525,0.855),(0.53,0.86),(0.545,0.85),(0.515,0.995),(0.54,0.82),(0.535,0.785),(0.54,0.74),(0.55,0.72),(0.55,0.705),(0.535,0.65),(0.54,0.64),(0.55,0.625),(0.555,0.63),(0.52,0.605),(0.53,0.58),(0.5,0.54),(0.505,0.56),(0.505,0.51),(0.51,0.5),(0.53,0.535),(0.52,0.45),(0.53,0.45),(0.545,0.44),(0.5,0.415),(0.53,0.38),(0.535,0.385),(0.53,0.33),(0.535,0.335),(0.54,0.345),(0.55,0.34),(0.55,0.305),(0.515,0.25),(0.53,0.26),(0.53,0.24),(0.535,0.22),(0.54,0.245),(0.55,0.26),(0.56,0.26),(0.55,0.195),(0.575,0.99),(0.565,0.98),(0.595,0.93),(0.59,0.92),(0.6,0.915),(0.6,0.86),(0.6,0.845),(0.6,0.795),(0.57,0.925),(0.575,0.765),(0.565,0.64),(0.57,0.575),(0.6,0.595),(0.585,0.595),(0.595,0.555),(0.565,0.53),(0.575,0.505),(0.585,0.485),(0.58,0.455),(0.585,0.44),(0.58,0.415),(0.585,0.42),(0.56,0.38),(0.58,0.35),(0.59,0.33),(0.57,0.27),(0.58,0.285),(0.585,0.265),(0.595,0.235),(0.61,0.29),
(0.62,0.6),(0.63,0.625),(0.63,0.665),(0.64,0.6),(0.645,0.77),(0.65,0.87),(0.655,0.955),(0.645,0.93),(0.63,0.785),(0.64,0.745),(0.68,0.83),(0.68,0.745),(0.66,0.735),(0.66,0.705),(0.7,0.885),(0.7,0.735),(0.73,0.94),(0.725,0.94),(0.73,0.81),(0.74,0.79),(0.813,0.975),(0.965,0.395),(0.865,0.72),(0.675,0.94),
(0.65,0.655),(0.655,0.64),(0.66,0.535),(0.665,0.54),(0.67,0.565),(0.68,0.62),(0.685,0.62),(0.69,0.615),(0.67,0.61),(0.68,0.595),(0.67,0.525),(0.68,0.515),(0.69,0.495),(0.7,0.485),(0.71,0.515),(0.72,0.585),(0.725,0.59),(0.72,0.55),(0.74,0.58),(0.74,0.585),(0.74,0.56),(0.74,0.525),(0.72,0.475),(0.72,0.43),(0.7,0.435),(0.68,0.44),(0.68,0.415),(0.685,0.405),(0.66,0.44),(0.65,0.36),(0.67,0.355),(0.62,0.45),(0.63,0.45),(0.61,0.415),(0.61,0.51),(0.615,0.495),(0.635,0.51),(0.645,0.51),(0.6,0.505),(0.645,0.43),(0.65,0.42),(0.65,0.4),(0.63,0.39),(0.63,0.385),(0.61,0.375),(0.61,0.37),(0.67,0.31),(0.69,0.34),(0.695,0.39),(0.71,0.345),(0.7,0.34),(0.69,0.32),(0.685,0.29),(0.68,0.305),(0.71,0.32),(0.73,0.3),(0.73,0.375),(0.75,0.375),(0.755,0.395),(0.76,0.41),(0.76,0.445),(0.77,0.47),(0.78,0.45),(0.78,0.495),(0.785,0.5),(0.79,0.545),(0.8,0.535),(0.78,0.59),(0.825,0.52),(0.87,0.52),(0.875,0.515),(0.885,0.52),(0.825,0.43),(0.845,0.435),(0.77,0.36),(0.78,0.34),(0.79,0.365),(0.8,0.36),(0.805,0.365),(0.8,0.32),(0.8,0.31),(0.78,0.3),(0.82,0.325),(0.82,0.28),(0.83,0.29),(0.85,0.31),(0.86,0.31),(0.86,0.355),(0.88,0.34),(0.905,0.33),(0.935,0.255),(0.87,0.27),(0.89,0.25),(0.89,0.23),(0.86,0.24),(0.84,0.27),(0.83,0.26),(0.83,0.235),(0.82,0.24),(0.8,0.23),(0.8,0.22),(0.78,0.23),(0.77,0.255),(0.77,0.235),(0.76,0.2),(0.77,0.2),(0.775,0.195),(0.79,0.195),(0.74,0.25),(0.745,0.26),(0.74,0.22),(0.75,0.21),(0.755,0.175),(0.75,0.16),(0.74,0.145),(0.76,0.11),(0.775,0.125),(0.7,0.26),(0.705,0.23),(0.69,0.21),(0.695,0.155),(0.7,0.17),(0.72,0.165),(0.67,0.23),(0.67,0.205),(0.66,0.255),(0.66,0.235),(0.62,0.22),(0.6,0.235),(0.64,0.2),(0.615,0.17),(0.625,0.115),(0.64,0.13),(0.71,0.135),(0.735,0.08),(0.77,0.08),(0.78,0.105),(0.78,0.145),(0.81,0.19),(0.82,0.205),(0.82,0.16),(0.83,0.17),(0.85,0.19),(0.86,0.195),(0.87,0.13),(0.88,0.13),(0.88,0.165),(0.88,0.16),(0.86,0.16),(0.845,0.155),(0.855,0.115),(0.84,0.1),(0.83,0.125),(0.82,0.11),(0.8,0.13),(0.81,0.12),(0.79,0.08),(0.83,0.095),(0.84,0.08),(0.855,0.025),(0.89,0.2),(0.89,0.23),(0.905,0.14),(0.91,0.13),(0.9,0.105),(0.91,0.1),(0.89,0.12),(0.88,0.085),(0.89,0.085),(0.905,0.065),(0.91,0.05),(0.915,0.18),(0.92,0.185),(0.93,0.185),(0.935,0.18),(0.93,0.145),(0.93,0.11),(0.925,0.08),(0.92,0.075),(0.94,0.09),(0.95,0.075),(0.955,0.09),(0.94,0.065),(0.945,0.05),(0.95,0.055),(0.96,0.06),(0.965,0.05),(0.975,0.07),(0.985,0.075),(0.99,0.03),(0.995,0.02),(0.97,0.045),(0.96,0.04),(0.95,0.035),(0.93,0.06),(0.935,0.045),(0.92,0.035),(0.91,0.03),(0.98,0.02),
(0.01,0.41),(0.09,0.42),(0.1,0.435),(0.11,0.485),(0.125,0.475),(0.125,0.415),(0.14,0.39),(0.14,0.385),(0.15,0.44),(0.155,0.455),(0.17,0.41),(0.18,0.485),(0.19,0.495),(0.195,0.42),(0.2,0.4),(0.2,0.39),(0.205,0.385),(0.205,0.45),(0.21,0.48),(0.22,0.46),(0.23,0.465),(0.24,0.455),(0.24,0.49),(0.23,0.545),(0.245,0.395),(0.26,0.4),(0.28,0.415),(0.275,0.365),(0.24,0.35),(0.21,0.35),(0.165,0.36),(0.19,0.315),(0.125,0.34),(0.11,0.3),(0.145,0.23),(0.135,0.17),(0.045,0.205),(0.065,0.36),(0.205,0.24),(0.225,0.27),(0.225,0.25),(0.235,0.21),(0.24,0.205),(0.23,0.205),(0.26,0.21),(0.27,0.205),(0.255,0.15),(0.287,0.105),(0.33,0.155),(0.315,0.325),(0.33,0.355),(0.36,0.36),(0.36,0.34),(0.35,0.32),(0.35,0.31),(0.38,0.29),(0.34,0.255),(0.39,0.385),(0.415,0.405),(0.42,0.355),(0.44,0.36),(0.43,0.33),(0.43,0.315),(0.44,0.31),(0.445,0.295),(0.445,0.28),(0.435,0.27),(0.47,0.41),(0.455,0.41),(0.45,0.375),(0.45,0.33),(0.48,0.3),(0.49,0.305),(0.495,0.385),(0.52,0.375),(0.465,0.06),(0.555,0.05),(0.485,0.13),(0.49,0.165),(0.415,0.215)]

gumbel_curve_x = [0, 0.03, 0.1, 0.2, 0.3, 0.4, 0.5, 0.6, 0.7, 0.75, 0.78, 0.82, 0.85, 0.87, 0.89, 0.91, 0.93, 0.95, 0.965, 0.975, 0.985, 0.99, 0.995, 0.998, 1]
gumbel_curve_y = [0.002, 0.01, 0.022, 0.037, 0.053, 0.075, 0.1, 0.133, 0.18, 0.207, 0.228, 0.262, 0.298, 0.34, 0.395, 0.455, 0.525, 0.6, 0.665, 0.72, 0.785, 0.835, 0.905, 0.955, 1]
gumbel90_curve_x = [0, 0.002, 0.006, 0.014, 0.026, 0.038, 0.05, 0.062, 0.08, 0.11, 0.135, 0.159, 0.19, 0.224, 0.26, 0.305, 0.36, 0.418, 0.48, 0.547, 0.62, 0.708, 0.79, 0.87, 0.95, 1]
gumbel90_curve_y = [1, 0.95, 0.865, 0.75, 0.67, 0.605, 0.55, 0.5, 0.44, 0.368, 0.32, 0.286, 0.25, 0.223, 0.195, 0.166, 0.14, 0.116, 0.096, 0.078, 0.06, 0.042, 0.03, 0.02, 0.01, 0.002]
clayton_curve_x = [0, 0.2, 0.4, 0.6, 0.8, 1]
clayton_curve_y = [0, 0.08, 0.157, 0.228, 0.3, 0.367]
clayton90_curve_x = [0, 0.2, 0.4, 0.6, 0.8, 1]
clayton90_curve_y = [0.367, 0.3, 0.228, 0.157, 0.08, 0]

titles = ["copula Gumbel", "copula Gumbel rotada 90 grados", "copula Clayton", "copula Clayton rotada 90 grados"]
x_title = "u<sub>1</sub>"
y_title = "u<sub>2</sub>"

BLUE = "#4472C4"
RED = "#FF0000"
TEXT = "#595959"
LINE = "#D9D9D9"
FONT = "Lato, 'Open Sans', sans-serif"

panels = [
    dict(pts=gumbel_pts, cx=gumbel_curve_x, cy=gumbel_curve_y, box=(93, 597, 79, 343), ticks="", lw=5, standoff=6,
         title=(303, 30), xt=(345, 406), yt=(32, 210)),
    dict(pts=gumbel90_pts, cx=gumbel90_curve_x, cy=gumbel90_curve_y, box=(753, 1244, 81, 346), ticks="outside", lw=5, standoff=5,
         title=(957, 33), xt=(998, 410), yt=(690, 213)),
    dict(pts=clayton_pts, cx=clayton_curve_x, cy=clayton_curve_y, box=(82, 600, 521, 784), ticks="", lw=6, standoff=6,
         title=(299, 474), xt=(341, 845), yt=(18, 653)),
    dict(pts=clayton90_pts, cx=clayton90_curve_x, cy=clayton90_curve_y, box=(766, 1244, 521, 785), ticks="outside", lw=6, standoff=3,
         title=(963, 474), xt=(1005, 845), yt=(702, 653)),
]

fig = go.Figure()
annotations = []
for i, (p, title) in enumerate(zip(panels, titles), start=1):
    x0, x1, y0, y1 = p["box"]
    xa = f"x{i}" if i > 1 else "x"
    ya = f"y{i}" if i > 1 else "y"
    fig.add_trace(go.Scatter(x=[a for a, _ in p["pts"]], y=[b for _, b in p["pts"]], mode="markers",
                             marker=dict(color=BLUE, size=5.4), xaxis=xa, yaxis=ya, showlegend=False, cliponaxis=False))
    fig.add_trace(go.Scatter(x=p["cx"], y=p["cy"], mode="lines", line=dict(color=RED, width=p["lw"], shape="spline", smoothing=0.5),
                             xaxis=xa, yaxis=ya, showlegend=False, cliponaxis=False))
    common = dict(showgrid=False, zeroline=False, showline=True, linecolor=LINE, linewidth=1.5, range=[0, 1],
                  ticks=p["ticks"], ticklen=5, tickcolor=LINE, tickfont=dict(family=FONT, size=18, color=TEXT))
    fig.update_layout(**{
        ("xaxis" if i == 1 else f"xaxis{i}"): dict(domain=[x0 / W, x1 / W], anchor=ya, tickmode="array",
                                                    tickvals=tick_vals_x, ticktext=tick_text_x,
                                                    ticklabelstandoff=p["standoff"], **common),
        ("yaxis" if i == 1 else f"yaxis{i}"): dict(domain=[1 - y1 / H, 1 - y0 / H], anchor=xa, tickmode="array",
                                                    tickvals=tick_vals_y, ticktext=tick_text_y, **common),
    })
    annotations.append(dict(text=title, x=p["title"][0] / W, y=1 - p["title"][1] / H, xref="paper", yref="paper",
                            showarrow=False, xanchor="center", yanchor="middle",
                            font=dict(family=FONT, size=29.5, color=TEXT)))
    annotations.append(dict(text=x_title, x=p["xt"][0] / W, y=1 - p["xt"][1] / H, xref="paper", yref="paper",
                            showarrow=False, xanchor="center", yanchor="middle",
                            font=dict(family=FONT, size=23, color=TEXT)))
    annotations.append(dict(text=y_title, x=p["yt"][0] / W, y=1 - p["yt"][1] / H, xref="paper", yref="paper",
                            showarrow=False, xanchor="center", yanchor="middle", textangle=-90,
                            font=dict(family=FONT, size=23, color=TEXT)))
    if x1 > 1240:
        # the right panels' last tick label sits on the page edge, where the axis drops it
        annotations.append(dict(text=tick_text_x[-1], x=1, y=1 - (y1 + 27) / H, xref="paper", yref="paper",
                                showarrow=False, xanchor="right", yanchor="middle", borderpad=0, xshift=1,
                                font=dict(family=FONT, size=18, color=TEXT)))

fig.update_layout(width=W, height=H, margin=dict(l=0, r=0, t=0, b=0, autoexpand=False), paper_bgcolor="white", plot_bgcolor="white",
                  annotations=annotations, showlegend=False,
                  shapes=[dict(type="line", xref="paper", yref="paper", x0=626 / W, x1=626 / W, y0=1 - 431 / H, y1=1 - 10 / H,
                               line=dict(color="#D9D9D9", width=1))])
fig.write_html("out.html", config={"displayModeBar": False},
               post_script="document.body.style.margin='0';document.documentElement.style.overflow='hidden';")
